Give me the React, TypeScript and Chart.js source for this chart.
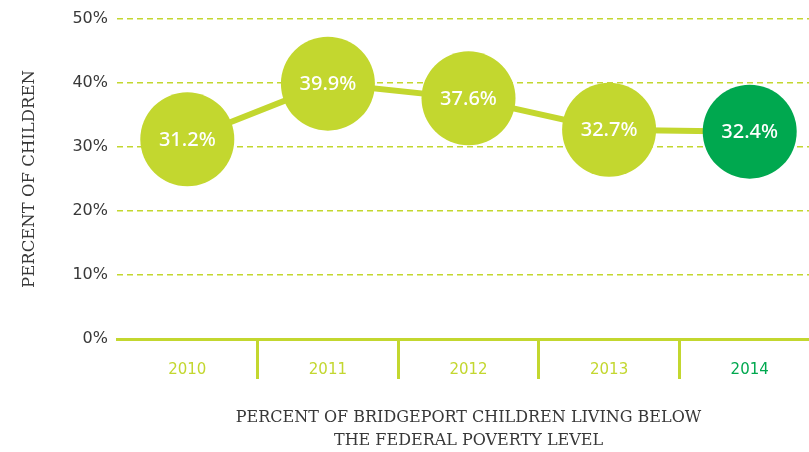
import React, { useEffect, useRef } from "react";
import { Chart, registerables } from "chart.js";

Chart.register(...registerables);

const categories = ["2010", "2011", "2012", "2013", "2014"];
const values = [31.2, 39.9, 37.6, 32.7, 32.4];
const yTicks = [0, 10, 20, 30, 40, 50];
const yTitle = "PERCENT OF CHILDREN";
const xTitle = ["PERCENT OF BRIDGEPORT CHILDREN LIVING BELOW", "THE FEDERAL POVERTY LEVEL"];

const LIME = "#c3d72f";
const GREEN = "#00a84f";
const TEXT = "#383838";

const labelPlugin = {
  id: "bubbleLabels",
  afterDatasetsDraw(chart: any) {
    const ctx = chart.ctx;
    const meta = chart.getDatasetMeta(0);
    ctx.save();
    ctx.fillStyle = "#ffffff";
    ctx.font = "500 20px 'Noto Sans'";
    ctx.textAlign = "center";
    ctx.textBaseline = "middle";
    meta.data.forEach((pt: any, i: number) => {
      ctx.fillText(values[i].toFixed(1) + "%", pt.x, pt.y + 1);
    });
    ctx.restore();
  },
};

export default function App() {
  const ref = useRef<HTMLCanvasElement | null>(null);
  useEffect(() => {
    document.body.style.margin = "0";
    document.body.style.overflow = "hidden";
    const canvas = ref.current!;
    const chart = new Chart(canvas, {
      type: "line",
      data: {
        labels: categories,
        datasets: [
          {
            data: values,
            borderColor: LIME,
            borderWidth: 6,
            pointRadius: 47,
            pointHoverRadius: 47,
            pointBorderWidth: 0,
            pointBackgroundColor: values.map((_, i) => (i === values.length - 1 ? GREEN : LIME)),
            pointBorderColor: values.map((_, i) => (i === values.length - 1 ? GREEN : LIME)),
            tension: 0,
            clip: false as any,
          },
        ],
      },
      options: {
        responsive: false,
        animation: false,
        events: [],
        layout: { autoPadding: false, padding: { top: 19, right: 0, left: 0, bottom: 0 } },
        plugins: {
          legend: { display: false },
          tooltip: { enabled: false },
        },
        scales: {
          x: {
            offset: true,
            grid: {
              offset: true,
              drawOnChartArea: false,
              drawTicks: true,
              tickLength: 40,
              lineWidth: 3,
              color: (c: any) => (c.index === 0 ? "rgba(0,0,0,0)" : LIME),
            },
            border: { display: true, color: LIME, width: 3 },
            ticks: {
              padding: -18,
              font: { family: "'DejaVu Sans'", size: 15 },
              color: (c: any) => (c.index === categories.length - 1 ? GREEN : LIME),
            },
            title: {
              display: true,
              text: xTitle,
              color: TEXT,
              font: { family: "'DejaVu Serif'", size: 16, lineHeight: 23 / 16 },
              padding: { top: 0, bottom: 0 },
            },
            afterFit: (scale: any) => {
              scale.height = 452 - 339;
            },
          },
          y: {
            min: 0,
            max: 50,
            afterBuildTicks: (scale: any) => {
              scale.ticks = yTicks.map((v) => ({ value: v }));
            },
            grid: {
              drawTicks: false,
              color: LIME,
              lineWidth: 1.5,
            },
            border: { display: false, dash: [6, 4] },
            ticks: {
              padding: 9,
              font: { family: "'DejaVu Sans'", size: 16 },
              color: TEXT,
              callback: (v: any) => v + "%",
            },
            title: {
              display: true,
              text: yTitle,
              color: TEXT,
              font: { family: "'DejaVu Serif'", size: 16.5, lineHeight: 1.2 },
              padding: { top: 20, bottom: 0 },
            },
            afterFit: (scale: any) => {
              scale.width = 117;
            },
          },
        },
      },
      plugins: [labelPlugin],
    });
    return () => chart.destroy();
  }, []);
  return (
    <div style={{ width: 820, height: 452 }}>
      <canvas ref={ref} width={820} height={452} style={{ width: 820, height: 452 }} />
    </div>
  );
}
